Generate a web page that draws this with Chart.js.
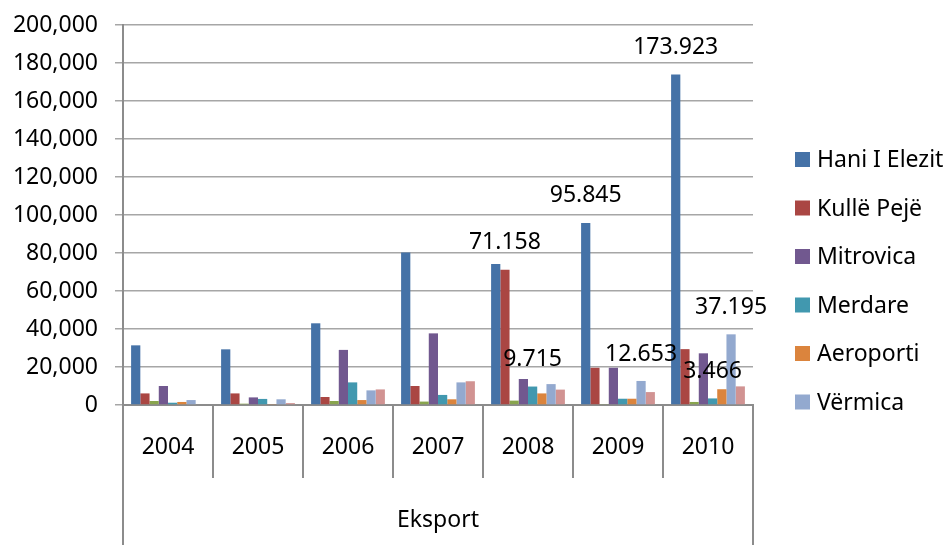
<!DOCTYPE html>
<html>
<head>
<meta charset="utf-8">
<script src="https://cdn.jsdelivr.net/npm/chart.js@4.4.1/dist/chart.umd.min.js"></script>
<style>
    html, body { margin: 0; padding: 0; background: #fff; }
    #wrap { width: 945px; height: 545px; position: relative; }
</style>
</head>
<body>
<div id="wrap"><canvas id="barChart"></canvas></div>
<script>
const years = ['2004', '2005', '2006', '2007', '2008', '2009', '2010'];
const yTicks = [0, 20000, 40000, 60000, 80000, 100000, 120000, 140000, 160000, 180000, 200000];

const haniElezit = [31400, 29300, 43000, 80200, 74200, 95845, 173923];
const kullePeje  = [6100, 6100, 4200, 10000, 71158, 19600, 29400];
const jarinje    = [2100, 700, 2100, 1800, 2300, 300, 1600];
const mitrovica  = [10000, 4000, 29000, 37700, 13700, 19600, 27200];
const merdare    = [1200, 3200, 11900, 5300, 9715, 3300, 3466];
const aeroporti  = [1600, 300, 2600, 3000, 6100, 3300, 8300];
const vermica    = [2600, 3000, 7700, 11900, 11000, 12653, 37195];
const bernjak    = [0, 1000, 8200, 12500, 8100, 6800, 9800];

// which bars carry a value label: [dataset index, year index]
const labelSeries = [1, 4, 0, 6, 0, 4, 6];
const labelYears  = [4, 4, 5, 5, 6, 6, 6];

const FONT = '"Noto Sans", sans-serif';
const AXIS_GRAY = '#8c8c8c';

// multi-level category box under the plot + the value labels + legend
const excelDecor = {
    id: 'excelDecor',
    afterDraw(chart) {
        const { ctx, chartArea } = chart;
        const x = chart.scales.x;
        const bottom = chartArea.bottom;
        ctx.save();
        ctx.strokeStyle = AXIS_GRAY;
        ctx.lineWidth = 2;
        ctx.beginPath();
        // outer lines run to the bottom
        ctx.moveTo(chartArea.left, bottom);
        ctx.lineTo(chartArea.left, chart.height);
        ctx.moveTo(chartArea.right, bottom);
        ctx.lineTo(chartArea.right, chart.height);
        // dividers between the years
        for (let i = 0; i < years.length - 1; i++) {
            const px = (x.getPixelForValue(i) + x.getPixelForValue(i + 1)) / 2;
            ctx.moveTo(px, bottom);
            ctx.lineTo(px, bottom + 73);
        }
        ctx.stroke();

        // value labels
        ctx.fillStyle = '#000';
        ctx.font = '23px ' + FONT;
        ctx.textAlign = 'center';
        ctx.textBaseline = 'middle';
        labelSeries.forEach((ds, k) => {
            const bar = chart.getDatasetMeta(ds).data[labelYears[k]];
            const v = chart.data.datasets[ds].data[labelYears[k]];
            ctx.fillText(v.toLocaleString('de-DE'), bar.x, bar.y - 27);
        });

        // legend
        ctx.textAlign = 'left';
        let ly = 159.5;
        chart.data.datasets.forEach(d => {
            if (d.noLegend) return;
            ctx.fillStyle = d.backgroundColor;
            ctx.fillRect(795, ly - 7.5, 15, 15);
            ctx.fillStyle = '#000';
            ctx.fillText(d.label, 817, ly + 1);
            ly += 48.5;
        });
        ctx.restore();
    }
};

const ctxBar = document.getElementById('barChart');
new Chart(ctxBar, {
    type: 'bar',
    data: {
        labels: years,
        datasets: [
            { label: 'Hani I Elezit', data: haniElezit, backgroundColor: '#4572A7' },
            { label: 'Kullë Pejë', data: kullePeje, backgroundColor: '#AA4643' },
            { label: 'Jarinjë', data: jarinje, backgroundColor: '#89A54E', noLegend: true },
            { label: 'Mitrovica', data: mitrovica, backgroundColor: '#71588F' },
            { label: 'Merdare', data: merdare, backgroundColor: '#4198AF' },
            { label: 'Aeroporti', data: aeroporti, backgroundColor: '#DB843D' },
            { label: 'Vërmica', data: vermica, backgroundColor: '#93A9CF' },
            { label: 'Bërnjak', data: bernjak, backgroundColor: '#D19392', noLegend: true }
        ]
    },
    options: {
        responsive: true,
        maintainAspectRatio: false,
        animation: false,
        datasets: { bar: { categoryPercentage: 0.82, barPercentage: 1 } },
        layout: { padding: { top: 25, right: 192, bottom: 0, left: 12 } },
        plugins: { legend: { display: false }, tooltip: { enabled: false } },
        scales: {
            x: {
                afterFit: axis => { axis.height = 140; axis.paddingLeft = 0; axis.paddingRight = 0; },
                grid: { display: false },
                border: { color: AXIS_GRAY, width: 2 },
                ticks: { color: '#000', font: { family: FONT, size: 23 }, padding: 21 },
                title: {
                    display: true, text: 'Eksport', color: '#000',
                    font: { family: FONT, size: 23 }, padding: { top: 44, bottom: 11 }
                }
            },
            y: {
                min: 0,
                max: 200000,
                afterFit: axis => { axis.width = 111; axis.paddingTop = 0; axis.paddingBottom = 0; },
                afterBuildTicks: axis => { axis.ticks = yTicks.map(v => ({ value: v })); },
                grid: { color: '#a6a6a6', lineWidth: 1.5, tickLength: 8 },
                border: { color: AXIS_GRAY, width: 2 },
                ticks: {
                    color: '#000', font: { family: FONT, size: 23 }, padding: 17,
                    callback: v => v.toLocaleString('en-US')
                }
            }
        }
    },
    plugins: [excelDecor]
});
</script>
</body>
</html>
